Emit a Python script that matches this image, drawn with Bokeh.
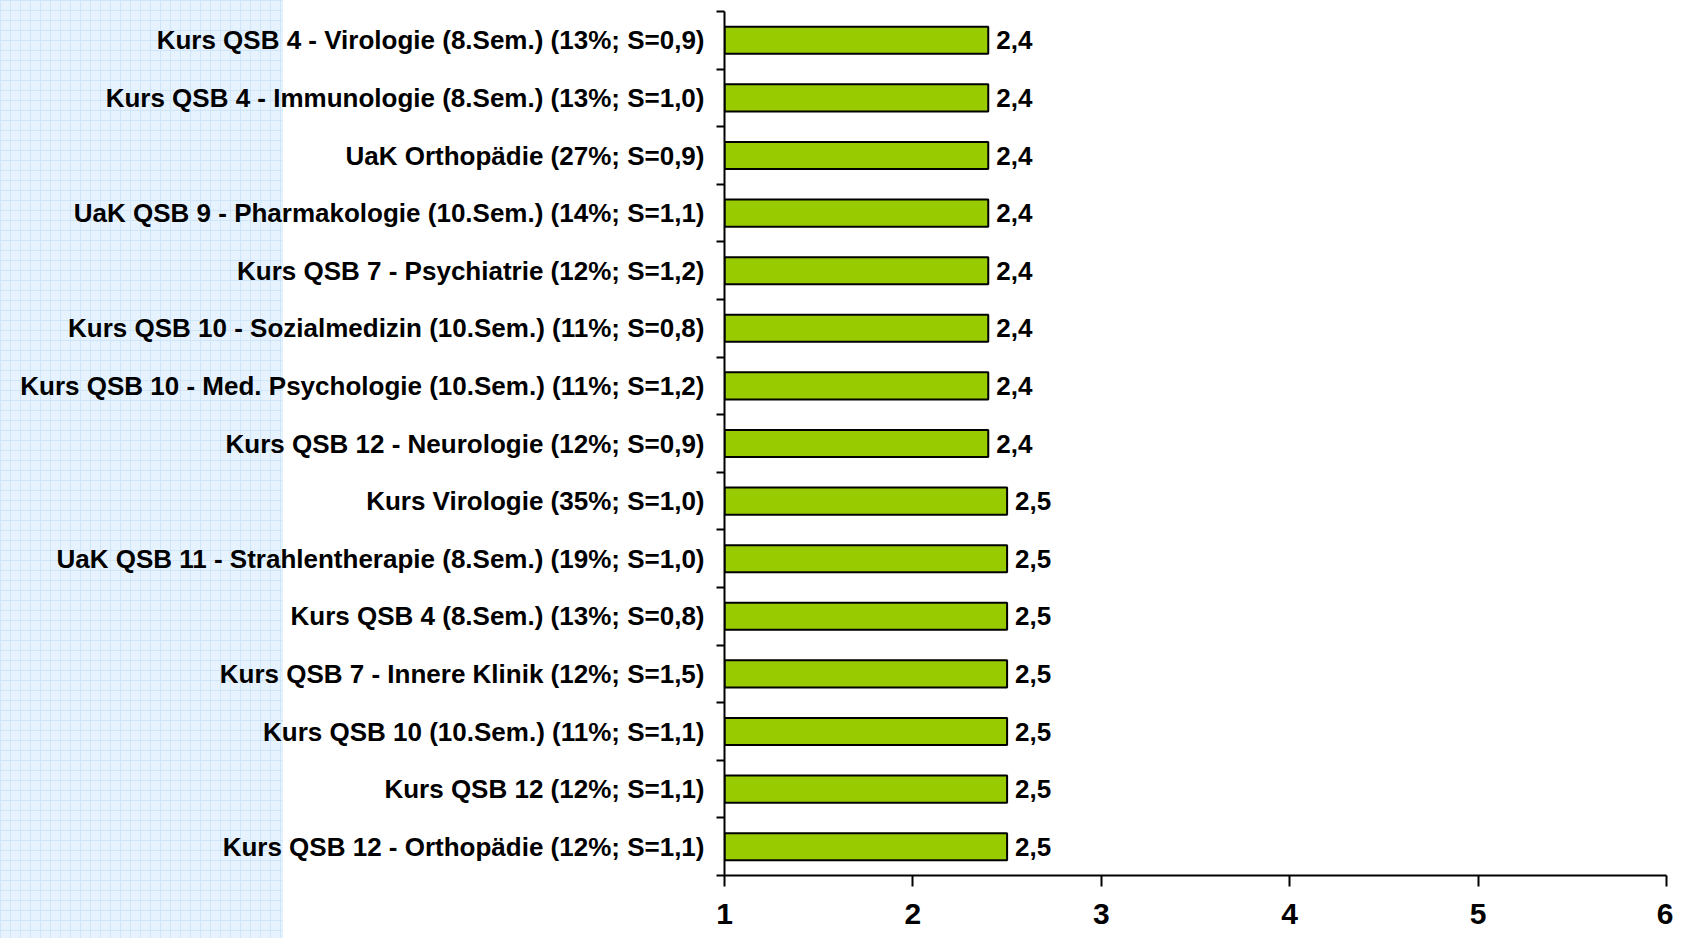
from bokeh.plotting import figure
from bokeh.models import FixedTicker, ColumnDataSource
from bokeh.core.properties import value
from bokeh.embed import file_html
from bokeh.resources import INLINE

categories = [
    "Kurs QSB 4 - Virologie (8.Sem.) (13%; S=0,9)",
    "Kurs QSB 4 - Immunologie (8.Sem.) (13%; S=1,0)",
    "UaK Orthopädie (27%; S=0,9)",
    "UaK QSB 9 - Pharmakologie (10.Sem.) (14%; S=1,1)",
    "Kurs QSB 7 - Psychiatrie (12%; S=1,2)",
    "Kurs QSB 10 - Sozialmedizin (10.Sem.) (11%; S=0,8)",
    "Kurs QSB 10 - Med. Psychologie (10.Sem.) (11%; S=1,2)",
    "Kurs QSB 12 - Neurologie (12%; S=0,9)",
    "Kurs Virologie (35%; S=1,0)",
    "UaK QSB 11 - Strahlentherapie (8.Sem.) (19%; S=1,0)",
    "Kurs QSB 4 (8.Sem.) (13%; S=0,8)",
    "Kurs QSB 7 - Innere Klinik (12%; S=1,5)",
    "Kurs QSB 10 (10.Sem.) (11%; S=1,1)",
    "Kurs QSB 12 (12%; S=1,1)",
    "Kurs QSB 12 - Orthopädie (12%; S=1,1)",
]
values = [2.4, 2.4, 2.4, 2.4, 2.4, 2.4, 2.4, 2.4, 2.5, 2.5, 2.5, 2.5, 2.5, 2.5, 2.5]
x_ticks = [1, 2, 3, 4, 5, 6]

n = len(categories)
y_centers = [n - i - 0.5 for i in range(n)]
value_labels = [f"{v:.1f}".replace(".", ",") for v in values]
src = ColumnDataSource(dict(y=y_centers, v=values, lab=value_labels))

FONT = "Liberation Sans"

p = figure(width=1673, height=938, x_range=(1, 6), y_range=(0, n),
           output_backend="svg", toolbar_location=None,
           min_border_left=724, min_border_right=7, min_border_top=11,
           min_border_bottom=63)

p.hbar(y="y", left=1, right="v", height=0.47, fill_color="#99CC00",
       line_color="black", line_width=2, source=src)
p.text(x="v", y="y", text="lab", x_offset=8, text_baseline="middle",
       text_align="left", text_font=value(FONT), text_font_style="bold",
       text_font_size="26px", text_color="black", source=src)

p.xgrid.visible = False
p.ygrid.visible = False
p.outline_line_color = None
p.border_fill_color = None
p.background_fill_color = None

# y axis: labels at band centres, ticks at band boundaries
ya = p.yaxis[0]
ya.ticker = FixedTicker(ticks=y_centers, minor_ticks=list(range(n + 1)))
ya.major_label_overrides = {y: c for y, c in zip(y_centers, categories)}
ya.major_tick_line_color = None
ya.major_tick_out = 8
ya.major_tick_in = 0
ya.minor_tick_out = 8
ya.minor_tick_in = 0
ya.minor_tick_line_color = "black"
ya.minor_tick_line_width = 2
ya.axis_line_color = "black"
ya.axis_line_width = 2
ya.major_label_standoff = 12
ya.major_label_text_font = FONT
ya.major_label_text_font_style = "bold"
ya.major_label_text_font_size = "26px"
ya.major_label_text_color = "black"

xa = p.xaxis[0]
xa.ticker = FixedTicker(ticks=x_ticks, minor_ticks=[])
xa.major_tick_out = 11
xa.major_tick_in = 0
xa.major_tick_line_width = 2
xa.major_tick_line_color = "black"
xa.axis_line_color = "black"
xa.axis_line_width = 2
xa.major_label_standoff = 17
xa.major_label_text_font = FONT
xa.major_label_text_font_style = "bold"
xa.major_label_text_font_size = "30px"
xa.major_label_text_color = "black"

grid = "#cfe6f9"
p.styles = {
    "background-image": (
        f"repeating-linear-gradient(to right, {grid} 0px, {grid} 1px, transparent 1px, transparent 10px),"
        f"repeating-linear-gradient(to bottom, {grid} 0px, {grid} 1px, transparent 1px, transparent 10px),"
        "linear-gradient(#e6f3fe, #e6f3fe)"
    ),
    "background-size": "283px 100%",
    "background-repeat": "no-repeat",
}

open("out.html", "w").write(file_html(p, INLINE))
